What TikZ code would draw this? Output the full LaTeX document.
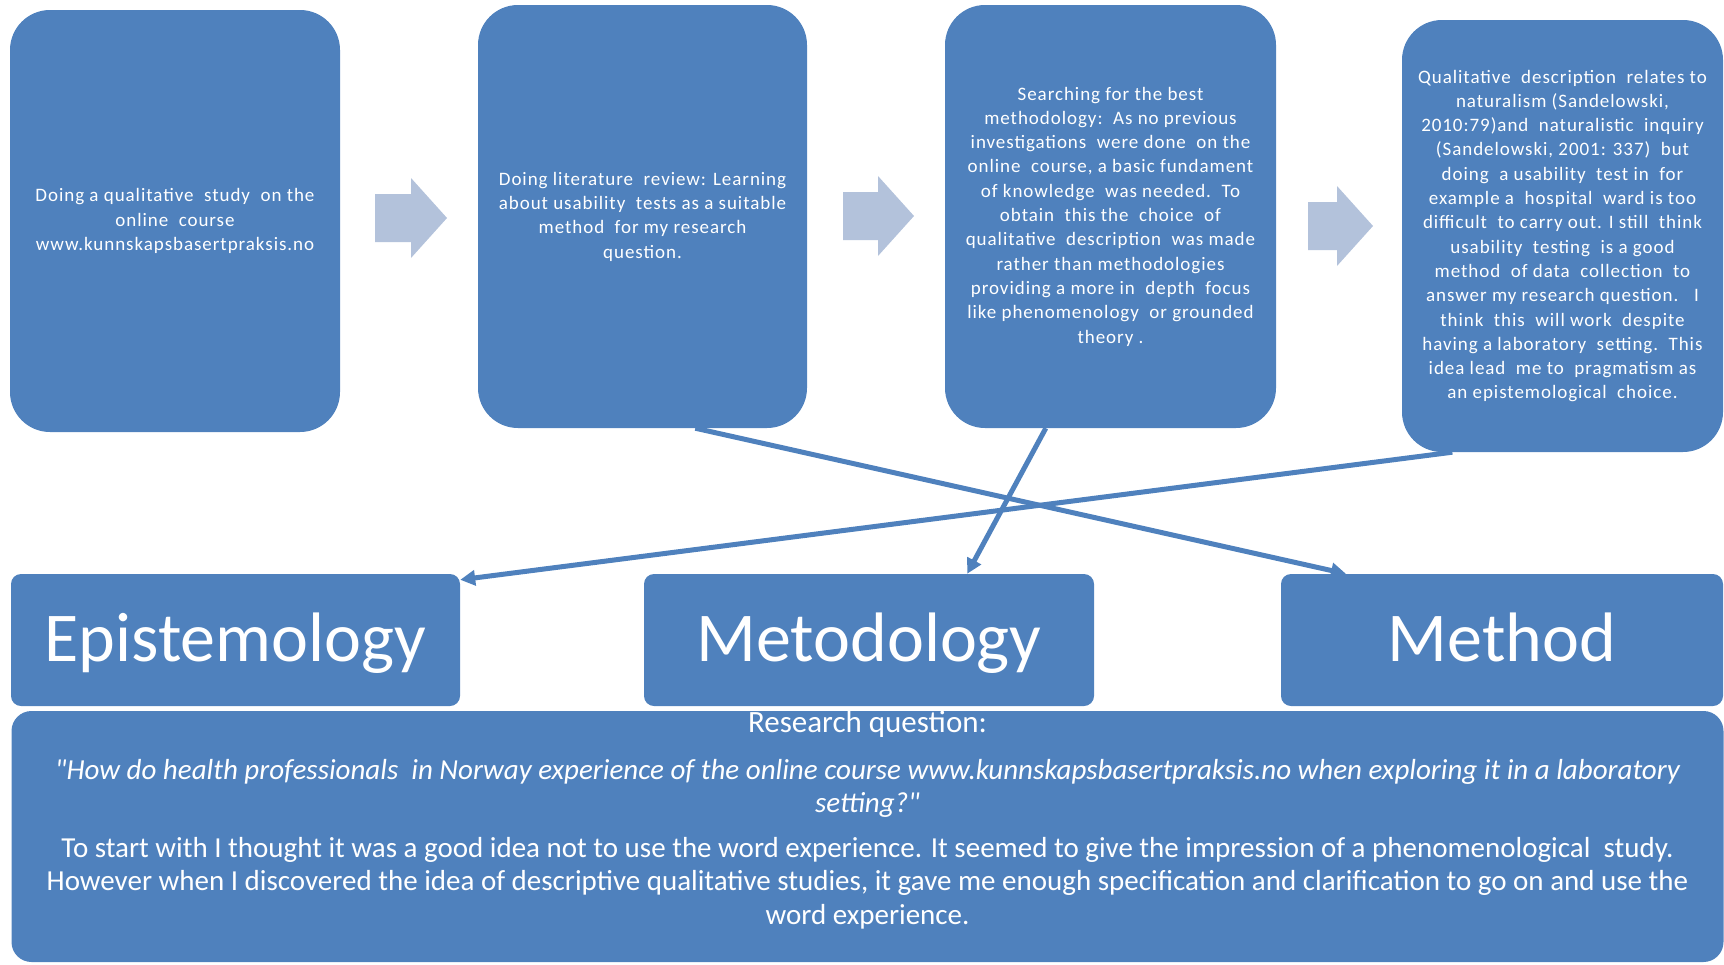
\documentclass[tikz,border=0pt]{standalone}
\usepackage{fontspec}
\setmainfont{Carlito}[Ligatures=TeXOff]
\newfontfamily\boxfont[LetterSpace=5]{Carlito}
\usetikzlibrary{positioning,arrows.meta}

\definecolor{boxblue}{RGB}{79,129,189}
\definecolor{arrowgrey}{RGB}{179,194,219}

\begin{document}
\begin{tikzpicture}[x=1pt, y=-1pt, every node/.style={text=white, inner sep=0pt},
  topbox/.style={fill=boxblue, rounded corners=40pt, align=center, font=\boxfont\fontsize{19}{24.3}\selectfont},
  labelbox/.style={fill=boxblue, rounded corners=10pt, minimum height=132pt, text height=46pt, text depth=4pt,
    font=\fontsize{70}{74}\selectfont},
  link/.style={draw=boxblue, line width=5pt, -{Triangle[length=15pt,width=15pt]}}]
  \useasboundingbox (0,0) rectangle (1724,964);

  % steps of the study
  \node[topbox, minimum width=330pt, minimum height=422pt] (study) at (175,221)
    {Doing a qualitative\ \ study\ \ on the\\ online\ \ course\\ www.kunnskapsbasertpraksis.no};
  \node[topbox, minimum width=329pt, minimum height=423pt] (review) at (642.5,216.5)
    {Doing literature\ \ review: Learning\\ about usability\ \ tests as a suitable\\ method\ \ for my research\\ question.};
  \node[topbox, minimum width=331pt, minimum height=423pt] (search) at (1110.5,216.5)
    {Searching for the best\\ methodology:\ \ As no previous\\ investigations\ \ were done\ \ on the\\
     online\ \ course, a basic fundament\\ of knowledge\ \ was needed.\ \ To\\ obtain\ \ this the\ \ choice\ \ of\\
     qualitative\ \ description\ \ was made\\ rather than methodologies\\ providing a more in\ \ depth\ \ focus\\
     like phenomenology\ \ or grounded\\ theory .};
  \node[topbox, minimum width=321pt, minimum height=432pt] (qualdesc) at (1562.5,236)
    {Qualitative\ \ description\ \ relates to\\ naturalism (Sandelowski,\\ 2010:79)and\ \ naturalistic\ \ inquiry\\
     (Sandelowski, 2001: 337)\ \ but\\ doing\ \ a usability\ \ test in\ \ for\\ example a\ \ hospital\ \ ward is too\\
     difficult\ \ to carry out. I still\ \ think\\ usability\ \ testing\ \ is a good\\ method\ \ of data\ \ collection\ \ to\\
     answer my research question.\ \ \ I\\ think\ \ this\ \ will work\ \ despite\\ having a laboratory\ \ setting.\ \ This\\
     idea lead\ \ me to\ \ pragmatism as\\ an epistemological\ \ choice.};

  % grey block arrows between the steps
  \foreach \tx/\hx/\ty in {375/447/218, 843/914/216, 1308/1373/226}
    \fill[arrowgrey] (\tx,\ty-24) -- (\hx-36,\ty-24) -- (\hx-36,\ty-40) -- (\hx,\ty)
      -- (\hx-36,\ty+40) -- (\hx-36,\ty+24) -- (\tx,\ty+24) -- cycle;

  % the three levels
  \node[labelbox, minimum width=449pt] (epist) at (235.5,640) {Epistemology};
  \node[labelbox, minimum width=450pt] (metod) at (869,640) {Metodology};
  \node[labelbox, minimum width=442pt] (method) at (1502,640) {Method};

  \draw[link] (review.-76.6) -- (method.157.5);
  \draw[link] (search.-107.2) -- (metod.34.2);
  \draw[link] (qualdesc.-117.1) -- (epist.15);

  % research question
  \node[fill=boxblue, rounded corners=20pt, minimum width=1712pt, minimum height=251pt] (rq) at (867.5,836.5) {};
  \node[below=0pt of rq.north, align=center, font=\fontsize{29}{33.5}\selectfont] (rqtext)
    {{\fontsize{31}{33.5}\selectfont Research question:}\\[13pt]
     \itshape "How do health professionals\ \ in Norway experience of the online course www.kunnskapsbasertpraksis.no when exploring it in a laboratory\\
     \itshape setting?"\\[11pt]
     To start with I thought it was a good idea not to use the word experience. It seemed to give the impression of a phenomenological\ \ study.\\
     However when I discovered the idea of descriptive qualitative studies, it gave me enough specification and clarification to go on and use the\\
     word experience.};
\end{tikzpicture}
\end{document}
